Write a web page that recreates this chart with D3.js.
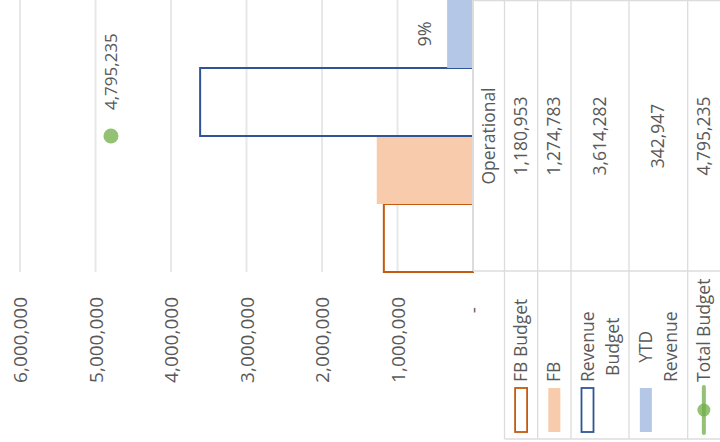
<!DOCTYPE html>
<meta charset="utf-8">

<!-- Load d3.js -->
<script src="https://d3js.org/d3.v7.min.js"></script>

<style>
  body { margin: 0; background: #fff; }
  svg text { font-family: "Open Sans", "Noto Sans", sans-serif; fill: #595959; }
</style>

<svg id="chart" width="720" height="442"></svg>

<script>

    // ---- data ----
    var category = "Operational";
    var barSeries = ["FB Budget", "FB", "Revenue Budget", "YTD Revenue"];
    var barValues = [1180953, 1274783, 3614282, 342947];
    var lineSeries = "Total Budget";
    var lineValues = [4795235];
    var ytdShareLabel = "9%";
    var axisTicks = [0, 1000000, 2000000, 3000000, 4000000, 5000000, 6000000];
    var legendLines = [["FB Budget"], ["FB"], ["Revenue", "Budget"], ["YTD", "Revenue"], ["Total Budget"]];

    // ---- layout (the whole chart is turned a quarter: values run right to left) ----
    var plotTop = 0, plotBottom = 272;
    var tableCols = [473, 504.5, 537.7, 571, 629, 687.7, 720];
    var tableSplit = 271, tableBottom = 439;
    var grid = "#dcdcdc";

    var colors = {
      "FB Budget":      {fill: "none",    stroke: "#C55A11"},
      "FB":             {fill: "#F8CBAD", stroke: "none"},
      "Revenue Budget": {fill: "none",    stroke: "#2F5597"},
      "YTD Revenue":    {fill: "#B4C7E7", stroke: "none"},
      "Total Budget":   {fill: "#70AD47", stroke: "#70AD47"}
    };

    var svg = d3.select("#chart");

    // value scale (horizontal, zero on the right)
    var x = d3.scaleLinear()
      .domain([0, 6000000])
      .range([473, 20]);

    // the single category, split into one band per bar series
    var band = d3.scaleBand()
      .domain(barSeries)
      .range([plotBottom, plotTop]);
    var catCenter = (plotTop + plotBottom) / 2;

    // gridlines
    svg.append("g")
      .selectAll("line")
      .data(axisTicks.filter(function(d) { return d > 0; }))
      .enter()
      .append("line")
        .attr("x1", function(d) { return x(d); })
        .attr("x2", function(d) { return x(d); })
        .attr("y1", plotTop)
        .attr("y2", plotBottom)
        .attr("stroke", "#e8e8e8")
        .attr("stroke-width", 2);

    // bars
    var bars = barSeries.map(function(s, i) { return {name: s, value: barValues[i]}; });
    svg.append("g")
      .selectAll("rect")
      .data(bars)
      .enter()
      .append("rect")
        .attr("x", function(d) { return x(d.value); })
        .attr("width", function(d) { return x(0) - x(d.value); })
        .attr("y", function(d) { return band(d.name); })
        .attr("height", band.bandwidth())
        .attr("fill", function(d) { return colors[d.name].fill; })
        .attr("stroke", function(d) { return colors[d.name].stroke; })
        .attr("stroke-width", 2);

    // category axis line at zero
    svg.append("line")
      .attr("x1", x(0)).attr("x2", x(0))
      .attr("y1", plotTop).attr("y2", tableSplit)
      .attr("stroke", grid)
      .attr("stroke-width", 2);

    // YTD share label, outside the end of the YTD bar
    svg.append("text")
      .attr("transform", "translate(" + (x(barValues[3]) - 22) + "," + (band("YTD Revenue") + band.bandwidth() / 2) + ") rotate(-90)")
      .attr("text-anchor", "middle")
      .attr("dy", "0.35em")
      .attr("font-size", 18)
      .text(ytdShareLabel);

    // total budget marker + label
    svg.append("g")
      .selectAll("circle")
      .data(lineValues)
      .enter()
      .append("circle")
        .attr("cx", function(d) { return x(d); })
        .attr("cy", catCenter)
        .attr("r", 7.5)
        .attr("fill", colors["Total Budget"].fill)
        .attr("opacity", 0.75);

    svg.append("g")
      .selectAll("text")
      .data(lineValues)
      .enter()
      .append("text")
        .attr("transform", function(d) { return "translate(" + x(d) + "," + (catCenter - 26) + ") rotate(-90)"; })
        .attr("dy", "0.35em")
        .attr("font-size", 17)
        .text(function(d) { return d3.format(",")(d); });

    // value axis labels (rotated)
    svg.append("g")
      .attr("transform", "translate(0," + plotBottom + ")")
      .call(d3.axisBottom(x)
        .tickValues(axisTicks)
        .tickSize(0)
        .tickFormat(function(d) { return d === 0 ? "-" : d3.format(",")(d); }))
      .call(function(g) { g.select(".domain").remove(); })
      .attr("font-family", null)
      .attr("font-size", null)
      .selectAll("text")
        .attr("transform", "rotate(-90)")
        .attr("x", function(d) { return d === 0 ? -35 : -25; })
        .attr("y", 0)
        .attr("dy", "0.35em")
        .attr("text-anchor", "end")
        .attr("font-size", 19)
        .attr("fill", "#595959");

    // ---- data table ----
    var table = svg.append("g");
    var lineStyle = function(sel) { return sel.attr("stroke", grid).attr("stroke-width", 1.3); };

    // outer / inner rules
    table.append("line").attr("x1", tableCols[0]).attr("x2", 720).attr("y1", 0.5).attr("y2", 0.5).call(lineStyle);
    table.append("line").attr("x1", tableCols[0]).attr("x2", 720).attr("y1", tableSplit).attr("y2", tableSplit).call(lineStyle);
    table.append("line").attr("x1", tableCols[1]).attr("x2", 720).attr("y1", tableBottom).attr("y2", tableBottom).call(lineStyle);
    table.selectAll("line.col")
      .data(tableCols.slice(1, 6))
      .enter()
      .append("line")
        .attr("class", "col")
        .attr("x1", function(d) { return d; }).attr("x2", function(d) { return d; })
        .attr("y1", 0).attr("y2", tableBottom)
        .call(lineStyle);

    // category header strip
    table.append("text")
      .attr("transform", "translate(" + (tableCols[0] + tableCols[1]) / 2 + "," + catCenter + ") rotate(-90)")
      .attr("text-anchor", "middle")
      .attr("dy", "0.35em")
      .attr("font-size", 17.5)
      .text(category);

    var rows = barSeries.concat([lineSeries]);
    var rowValues = barValues.concat(lineValues);

    rows.forEach(function(name, i) {
      var left = tableCols[i + 1], right = tableCols[i + 2];
      var cx = (left + right) / 2;

      // value cell
      table.append("text")
        .attr("transform", "translate(" + cx + "," + catCenter + ") rotate(-90)")
        .attr("text-anchor", "middle")
        .attr("dy", "0.35em")
        .attr("font-size", 17.5)
        .text(d3.format(",")(rowValues[i]));

      // legend label, possibly on two lines
      var lines = legendLines[i];
      var lineX = lines.map(function(l, j) { return cx + (j - (lines.length - 1) / 2) * 25; });
      var texts = lines.map(function(l, j) {
        return table.append("text")
          .attr("text-anchor", "middle")
          .attr("dy", "0.35em")
          .attr("font-size", 17.5)
          .text(l);
      });
      var maxLen = d3.max(texts, function(t) { return t.node().getComputedTextLength(); });
      texts.forEach(function(t, j) {
        t.attr("transform", "translate(" + lineX[j] + "," + (382 - maxLen / 2) + ") rotate(-90)");
      });

      // legend key
      var kx = lineX[0];
      if (name === lineSeries) {
        table.append("line")
          .attr("x1", kx).attr("x2", kx)
          .attr("y1", 387).attr("y2", 433)
          .attr("stroke", colors[name].stroke)
          .attr("stroke-width", 4)
          .attr("stroke-linecap", "round")
          .attr("opacity", 0.75);
        table.append("circle")
          .attr("cx", kx).attr("cy", 410).attr("r", 6.5)
          .attr("fill", colors[name].fill)
          .attr("opacity", 0.75);
      } else {
        table.append("rect")
          .attr("x", kx - 6).attr("y", 388)
          .attr("width", 12).attr("height", 44)
          .attr("fill", colors[name].fill === "none" ? "#fff" : colors[name].fill)
          .attr("stroke", colors[name].stroke)
          .attr("stroke-width", 1.8);
      }
    });

</script>
